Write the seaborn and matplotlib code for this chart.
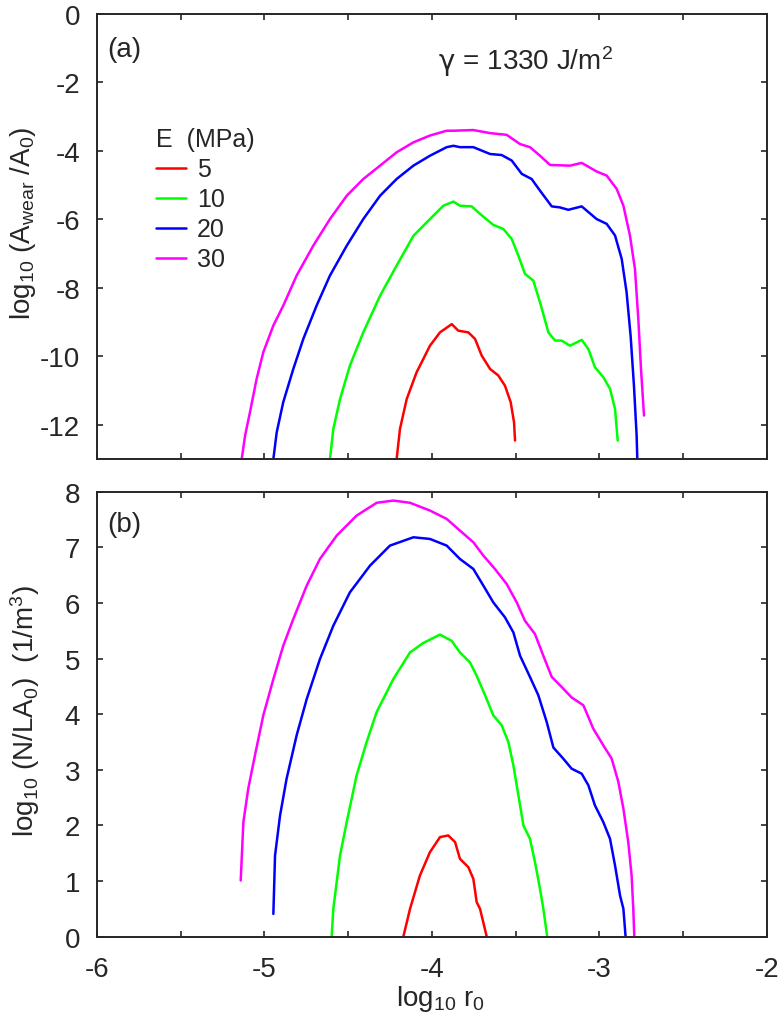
import numpy as np
import pandas as pd
import matplotlib
matplotlib.use("Agg")
import matplotlib.pyplot as plt
import seaborn as sns

# Dados: log10 r0 e curvas para cada E (MPa)
moduli = ["5", "10", "20", "30"]
cores = ["#ff0000", "#00ff00", "#0000ff", "#ff00ff"]

# (a) log10(Awear/A0)
a_x_5 = [-4.211, -4.191, -4.151, -4.092, -4.012, -3.952, -3.882, -3.843, -3.783, -3.743,
         -3.703, -3.653, -3.604, -3.564, -3.530, -3.510, -3.504]
a_y_5 = [-13.0, -12.12, -11.25, -10.47, -9.69, -9.30, -9.06, -9.25, -9.30, -9.49,
         -9.98, -10.37, -10.56, -10.86, -11.34, -11.93, -12.46]

a_x_10 = [-4.609, -4.589, -4.549, -4.490, -4.410, -4.310, -4.211, -4.111, -4.012, -3.932,
          -3.872, -3.833, -3.763, -3.713, -3.634, -3.574, -3.524, -3.484, -3.445, -3.395,
          -3.355, -3.305, -3.265, -3.226, -3.176, -3.106, -3.066, -3.027, -2.977, -2.937,
          -2.907, -2.891]
a_y_10 = [-13.0, -12.12, -11.25, -10.27, -9.30, -8.23, -7.35, -6.48, -5.99, -5.60,
          -5.48, -5.60, -5.62, -5.84, -6.16, -6.28, -6.57, -7.06, -7.59, -7.79,
          -8.42, -9.30, -9.54, -9.54, -9.69, -9.52, -9.79, -10.32, -10.61, -10.95,
          -11.54, -12.46]

a_x_20 = [-4.947, -4.927, -4.888, -4.828, -4.768, -4.689, -4.609, -4.509, -4.410, -4.310,
          -4.211, -4.111, -4.012, -3.912, -3.872, -3.833, -3.753, -3.653, -3.584, -3.524,
          -3.464, -3.405, -3.355, -3.285, -3.236, -3.186, -3.106, -3.017, -2.957, -2.907,
          -2.867, -2.838, -2.814, -2.794, -2.778, -2.774]
a_y_20 = [-13.0, -12.22, -11.34, -10.37, -9.49, -8.52, -7.64, -6.77, -5.99, -5.31,
          -4.82, -4.43, -4.14, -3.89, -3.85, -3.89, -3.89, -4.09, -4.12, -4.28,
          -4.67, -4.82, -5.16, -5.62, -5.65, -5.72, -5.62, -5.99, -6.13, -6.47,
          -7.16, -8.13, -9.40, -10.86, -12.32, -13.0]

a_x_30 = [-5.136, -5.116, -5.087, -5.047, -5.007, -4.947, -4.888, -4.808, -4.709, -4.609,
          -4.509, -4.410, -4.310, -4.211, -4.111, -4.012, -3.912, -3.872, -3.753, -3.653,
          -3.554, -3.474, -3.415, -3.355, -3.295, -3.176, -3.106, -3.017, -2.957, -2.897,
          -2.857, -2.818, -2.788, -2.768, -2.752, -2.734]
a_y_30 = [-13.0, -12.32, -11.64, -10.66, -9.88, -9.10, -8.52, -7.64, -6.77, -5.99,
          -5.31, -4.82, -4.43, -4.04, -3.75, -3.55, -3.41, -3.41, -3.39, -3.48,
          -3.53, -3.80, -3.89, -4.14, -4.41, -4.43, -4.35, -4.60, -4.72, -5.11,
          -5.60, -6.47, -7.45, -8.91, -10.37, -11.73]

# (b) log10(N/LA0)
b_x_5 = [-4.171, -4.131, -4.072, -4.012, -3.952, -3.903, -3.862, -3.833, -3.783, -3.753,
         -3.733, -3.713, -3.673]
b_y_5 = [0.0, 0.50, 1.10, 1.52, 1.79, 1.82, 1.70, 1.40, 1.25, 1.04,
         0.62, 0.50, 0.0]

b_x_10 = [-4.599, -4.589, -4.549, -4.509, -4.450, -4.390, -4.330, -4.231, -4.131, -4.052,
          -3.952, -3.883, -3.833, -3.773, -3.733, -3.683, -3.634, -3.584, -3.544, -3.514,
          -3.484, -3.454, -3.415, -3.385, -3.355, -3.335, -3.312]
b_y_10 = [0.0, 0.50, 1.46, 2.06, 2.90, 3.50, 4.04, 4.63, 5.11, 5.28,
          5.43, 5.32, 5.11, 4.93, 4.69, 4.34, 3.98, 3.80, 3.50, 3.08,
          2.54, 2.00, 1.76, 1.34, 0.86, 0.50, 0.0]

b_x_20 = [-4.947, -4.937, -4.907, -4.868, -4.808, -4.748, -4.669, -4.589, -4.490, -4.370,
          -4.251, -4.111, -4.012, -3.912, -3.833, -3.753, -3.693, -3.634, -3.564, -3.514,
          -3.474, -3.415, -3.365, -3.315, -3.275, -3.216, -3.166, -3.106, -3.066, -3.027,
          -2.977, -2.937, -2.907, -2.877, -2.857, -2.844]
b_y_20 = [0.41, 1.46, 2.18, 2.84, 3.62, 4.27, 4.99, 5.59, 6.19, 6.67,
          7.03, 7.18, 7.15, 7.03, 6.79, 6.61, 6.31, 6.01, 5.74, 5.47,
          5.05, 4.67, 4.34, 3.86, 3.40, 3.20, 3.02, 2.93, 2.72, 2.36,
          2.06, 1.76, 1.28, 0.74, 0.50, 0.0]

b_x_30 = [-5.142, -5.126, -5.097, -5.057, -5.007, -4.947, -4.888, -4.828, -4.748, -4.669,
          -4.569, -4.450, -4.330, -4.231, -4.131, -4.012, -3.912, -3.833, -3.753, -3.693,
          -3.624, -3.554, -3.494, -3.445, -3.385, -3.335, -3.285, -3.226, -3.166, -3.096,
          -3.037, -2.977, -2.927, -2.887, -2.857, -2.828, -2.808, -2.798, -2.792]
b_y_30 = [1.01, 2.06, 2.66, 3.26, 3.98, 4.63, 5.23, 5.71, 6.31, 6.79,
          7.21, 7.57, 7.80, 7.84, 7.80, 7.66, 7.51, 7.30, 7.09, 6.85,
          6.61, 6.34, 6.01, 5.68, 5.44, 5.05, 4.67, 4.49, 4.30, 4.16,
          3.74, 3.44, 3.20, 2.78, 2.30, 1.70, 1.10, 0.50, 0.0]

# Montando DataFrames longos
def montar(series):
    partes = []
    for e, (xs, ys) in zip(moduli, series):
        partes.append(pd.DataFrame({"x": xs, "y": ys, "E": e}))
    return pd.concat(partes, ignore_index=True)

df_a = montar([(a_x_5, a_y_5), (a_x_10, a_y_10), (a_x_20, a_y_20), (a_x_30, a_y_30)])
df_b = montar([(b_x_5, b_y_5), (b_x_10, b_y_10), (b_x_20, b_y_20), (b_x_30, b_y_30)])

sns.set_style("ticks")
plt.rcParams["font.family"] = ["Liberation Sans", "DejaVu Sans"]
plt.rcParams["mathtext.fontset"] = "custom"
plt.rcParams["mathtext.rm"] = "Liberation Sans"
plt.rcParams["mathtext.it"] = "Liberation Sans"
plt.rcParams["axes.unicode_minus"] = False
plt.rcParams["font.size"] = 20

fig = plt.figure(figsize=(7.81, 10.20), dpi=100)
ax1 = fig.add_axes([0.1242, 0.549, 0.8578, 0.4363])
ax2 = fig.add_axes([0.1242, 0.0807, 0.8578, 0.4363])

paleta = dict(zip(moduli, cores))
sns.lineplot(data=df_a, x="x", y="y", hue="E", palette=paleta, estimator=None,
             sort=False, units="E", linewidth=1.8, ax=ax1, legend=True)
sns.lineplot(data=df_b, x="x", y="y", hue="E", palette=paleta, estimator=None,
             sort=False, units="E", linewidth=1.8, ax=ax2, legend=False)

for ax in (ax1, ax2):
    ax.set_xlim(-6, -2)
    ax.set_xticks(np.arange(-6, -1.9, 1))
    ax.set_xticks(np.arange(-5.5, -2, 1), minor=True)
    ax.tick_params(which="both", direction="in", top=True, right=True,
                   length=4.5, width=1.2, labelsize=20)
    ax.tick_params(axis="y", pad=12)
    ax.tick_params(axis="x", pad=14)
    for s in ax.spines.values():
        s.set_linewidth(1.4)

ax1.set_ylim(-13, 0)
ax1.set_yticks(np.arange(-12, 0.1, 2))
ax1.set_xticklabels([])
ax1.set_xlabel("")
ax1.set_ylabel(r"log$_{10}$ (A$_{wear}$ /A$_0$)", fontsize=20)
ax1.yaxis.set_label_coords(-0.088, 0.533)
ax1.text(0.015, 0.951, "(a)", transform=ax1.transAxes, fontsize=20, va="top")
# gamma em DejaVu Sans, resto do texto em Liberation Sans
ax1.text(0.535, 0.876, "γ", transform=ax1.transAxes, fontsize=20,
         family="DejaVu Sans", ha="right", va="baseline")
ax1.text(0.535, 0.876, " = 1330 J/m$^2$", transform=ax1.transAxes,
         fontsize=20, ha="left", va="baseline")

leg = ax1.legend(title="E  (MPa)", loc="upper left", bbox_to_anchor=(0.088, 0.745),
                 frameon=False, fontsize=18, title_fontsize=18, handlelength=1.2,
                 handletextpad=0.45, labelspacing=0.24, borderaxespad=0, borderpad=0)
leg._legend_box.align = "left"

ax2.set_ylim(0, 8)
ax2.set_yticks(np.arange(0, 8.1, 1))
ax2.set_xticklabels(["-6", "-5", "-4", "-3", "-2"])
ax2.set_xlabel(r"log$_{10}$ r$_0$", fontsize=20)
ax2.xaxis.set_label_coords(0.513, -0.138)
ax2.xaxis.label.set_va("center")
ax2.set_ylabel(r"log$_{10}$ (N/LA$_0$)  (1/m$^3$)", fontsize=20)
ax2.yaxis.set_label_coords(-0.082, 0.51)
ax2.text(0.015, 0.957, "(b)", transform=ax2.transAxes, fontsize=20, va="top")

fig.savefig("out.png", dpi=100)
